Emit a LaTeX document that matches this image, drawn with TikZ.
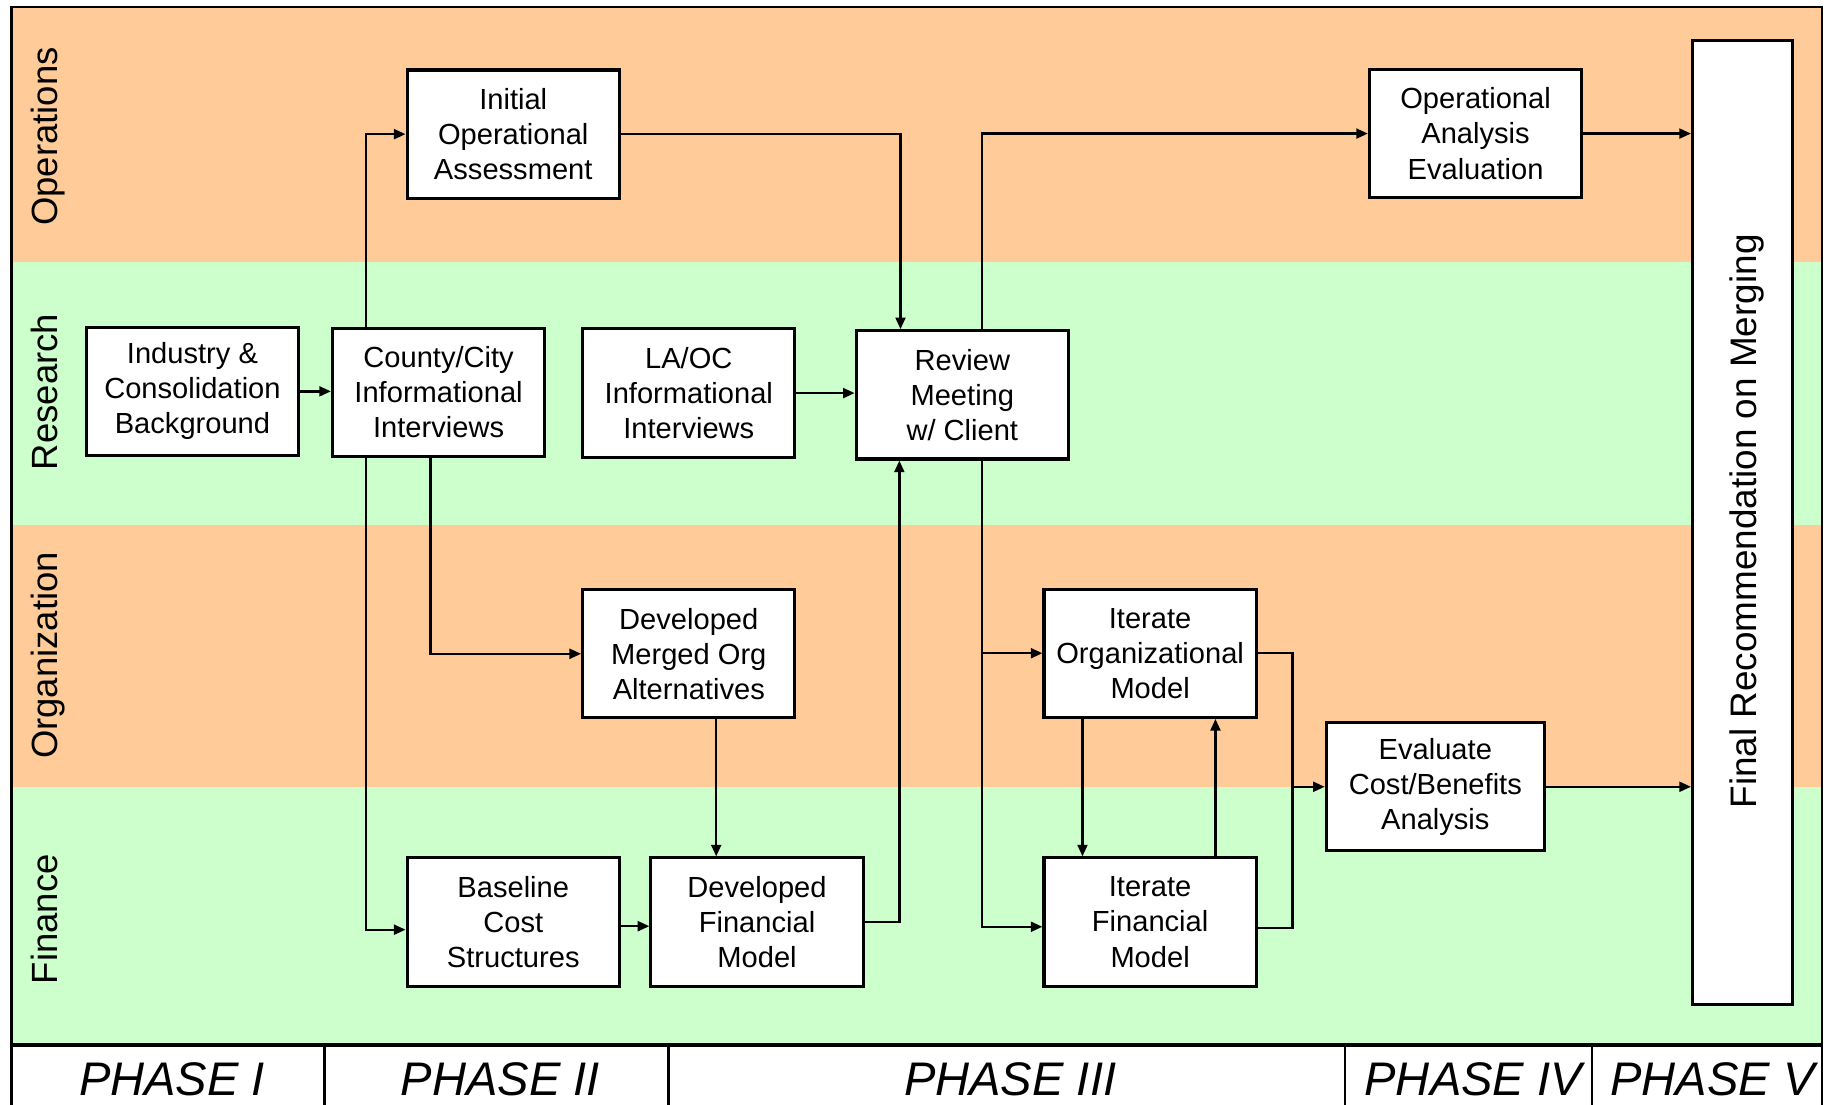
\documentclass[tikz,border=0pt]{standalone}
\usepackage{fontspec}
\setmainfont{Liberation Sans}
\usetikzlibrary{arrows.meta}
\definecolor{laneorange}{RGB}{255,204,153}
\definecolor{lanegreen}{RGB}{204,255,204}
\begin{document}
\begin{tikzpicture}[x=0.02cm,y=-0.02cm,
  stepbox/.style={draw=black, line width=1.5pt, fill=white, align=center,
    inner sep=0pt, minimum width=3.64cm, minimum height=2.2cm,
    font=\fontsize{14.2}{17.1}\selectfont},
  conn/.style={line width=1.15pt, -{Triangle[length=2mm,width=1.7mm]}},
  link/.style={line width=1.15pt},
  lanelabel/.style={rotate=90, anchor=base, inner sep=0pt,
    font=\fontsize{17.8}{20}\selectfont},
  phaselabel/.style={anchor=base, inner sep=0pt,
    font=\fontsize{23}{26}\selectfont\itshape}]
\useasboundingbox (0,0) rectangle (1568,947);

% swim lanes
\fill[laneorange] (10,6)   rectangle (1562,225);
\fill[lanegreen]  (10,225) rectangle (1562,450);
\fill[laneorange] (10,450) rectangle (1562,675);
\fill[lanegreen]  (10,675) rectangle (1562,896);

% phase strip
\fill[white] (10,896) rectangle (1562,990);
\draw[line width=1.8pt] (10,896) -- (1562,896);
\foreach \xx in {278,573,1153,1365}
  \draw[line width=1.2pt] (\xx,896) -- (\xx,990);

% outer frame
\draw[line width=1.3pt] (10,6) rectangle (1562,990);

% lane titles
\node[lanelabel] (lops) at (49,117) {Operations};
\node[lanelabel] (lres) at (49,336) {Research};
\node[lanelabel] (lorg) at (49,562) {Organization};
\node[lanelabel] (lfin) at (49,788) {Finance};

% phase titles
\node[phaselabel] (p1) at (147.5,939) {PHASE I};
\node[phaselabel] (p2) at (429,939) {PHASE II};
\node[phaselabel] (p3) at (866,939) {PHASE III};
\node[phaselabel] (p4) at (1263,939) {PHASE IV};
\node[phaselabel] (p5) at (1468,939) {PHASE V};

% process steps
\node[stepbox] (init) at (440,115)   {Initial\\Operational\\Assessment};
\node[stepbox] (ind)  at (165,335.5) {Industry \&\\Consolidation\\Background};
\node[stepbox] (cc)   at (376,336.5) {County/City\\Informational\\Interviews};
\node[stepbox] (laoc) at (590.5,337) {LA/OC\\Informational\\Interviews};
\node[stepbox] (rev)  at (825,338.5) {Review\\Meeting\\w/ Client};
\node[stepbox] (opa)  at (1265,114.5) {Operational\\Analysis\\Evaluation};
\node[stepbox] (dmo)  at (590.5,560.5) {Developed\\Merged Org\\Alternatives};
\node[stepbox] (base) at (440,790.5) {Baseline\\Cost\\Structures};
\node[stepbox] (dfm)  at (649,790.5) {Developed\\Financial\\Model};
\node[stepbox] (iom)  at (986,560)   {Iterate\\Organizational\\Model};
\node[stepbox] (ifm)  at (986,790.5) {Iterate\\Financial\\Model};
\node[stepbox, minimum width=3.74cm] (eval) at (1230.5,674.5) {Evaluate\\Cost/Benefits\\Analysis};
\node[stepbox, minimum width=1.72cm, minimum height=16.52cm] (final) at (1494,448) {};
\node[rotate=90, anchor=base, inner sep=0pt, font=\fontsize{18}{20}\selectfont]
  (finaltxt) at (1506,447) {Final Recommendation on Merging};

% routing columns
\coordinate (xa) at (314,0);
\coordinate (xc) at (772,0);
\coordinate (xd) at (842,0);
\coordinate (xg) at (369,0);
\coordinate (xj) at (614,0);
\coordinate (xk) at (771,0);
\coordinate (xm) at (928,0);
\coordinate (xn) at (1042,0);
\coordinate (jn) at (1108,674.5);

% connectors
\draw[conn] (ind.east) -- (ind.east -| cc.west);
\draw[conn] (cc.north -| xa) |- (init.west);
\draw[conn] (init.east) -| (rev.north -| xc);
\draw[conn] (rev.north -| xd) |- (opa.west);
\draw[conn] (opa.east) -- (opa.east -| final.west);
\draw[conn] (laoc.east) -- (laoc.east -| rev.west);
\draw[conn] (cc.south -| xg) |- (dmo.west);
\draw[conn] (cc.south -| xa) |- ([yshift=-0.13cm]base.west);
\draw[conn] ([yshift=-0.07cm]base.east) -- ([yshift=-0.07cm]base.east -| dfm.west);
\draw[conn] (dmo.south -| xj) -- (dfm.north -| xj);
\draw[conn] (dfm.east) -| (rev.south -| xk);
\draw[conn] (rev.south -| xd) |- (iom.west);
\draw[conn] (rev.south -| xd) |- ([yshift=-0.08cm]ifm.west);
\draw[conn] (iom.south -| xm) -- (ifm.north -| xm);
\draw[conn] (ifm.north -| xn) -- (iom.south -| xn);
\draw[link] (iom.east) -| (jn);
\draw[link] ([yshift=-0.1cm]ifm.east) -| (jn);
\draw[conn] (jn) -- (eval.west);
\draw[conn] (eval.east) -- (eval.east -| final.west);
\end{tikzpicture}
\end{document}
